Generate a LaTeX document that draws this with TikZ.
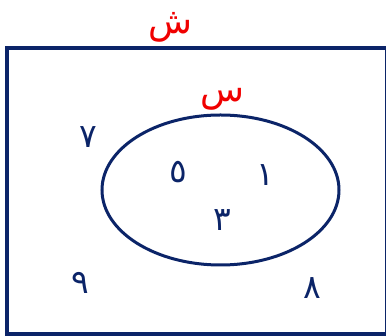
\documentclass[tikz,border=0pt]{standalone}
\usepackage{fontspec}
\usetikzlibrary{shapes.geometric}
\TeXXeTstate=1
\newfontfamily\arabicfont[Script=Arabic]{DejaVu Sans}
\definecolor{navy}{HTML}{0B2468}
\definecolor{lblred}{HTML}{F00000}
\begin{document}
\begin{tikzpicture}[x=1pt,y=-1pt,
  num/.style={text=navy,font=\arabicfont\fontsize{33}{33}\selectfont,inner sep=0pt},
  setlbl/.style={text=lblred,font=\arabicfont\fontsize{36}{36}\selectfont,inner sep=0pt}]
\useasboundingbox (0,0) rectangle (386,336);
\node[draw=navy,line width=4pt,minimum width=380pt,minimum height=286pt,inner sep=0pt,anchor=north west] (U) at (5,46) {};
\node[draw=navy,line width=3pt,ellipse,minimum width=237pt,minimum height=150pt,inner sep=0pt] (S) at (220.5,190) {};
\node[setlbl] (lu) at (170,27) {\beginR ش\endR};
\node[setlbl] (ls) at (222,99) {\beginR س\endR};
\node[num] (n7) at (88,137) {٧};
\node[num] (n5) at (178,172) {٥};
\node[num] (n1) at (265,175) {١};
\node[num] (n3) at (222,220) {٣};
\node[num] (n9) at (80,283) {٩};
\node[num] (n8) at (312,288) {٨};
\end{tikzpicture}
\end{document}
